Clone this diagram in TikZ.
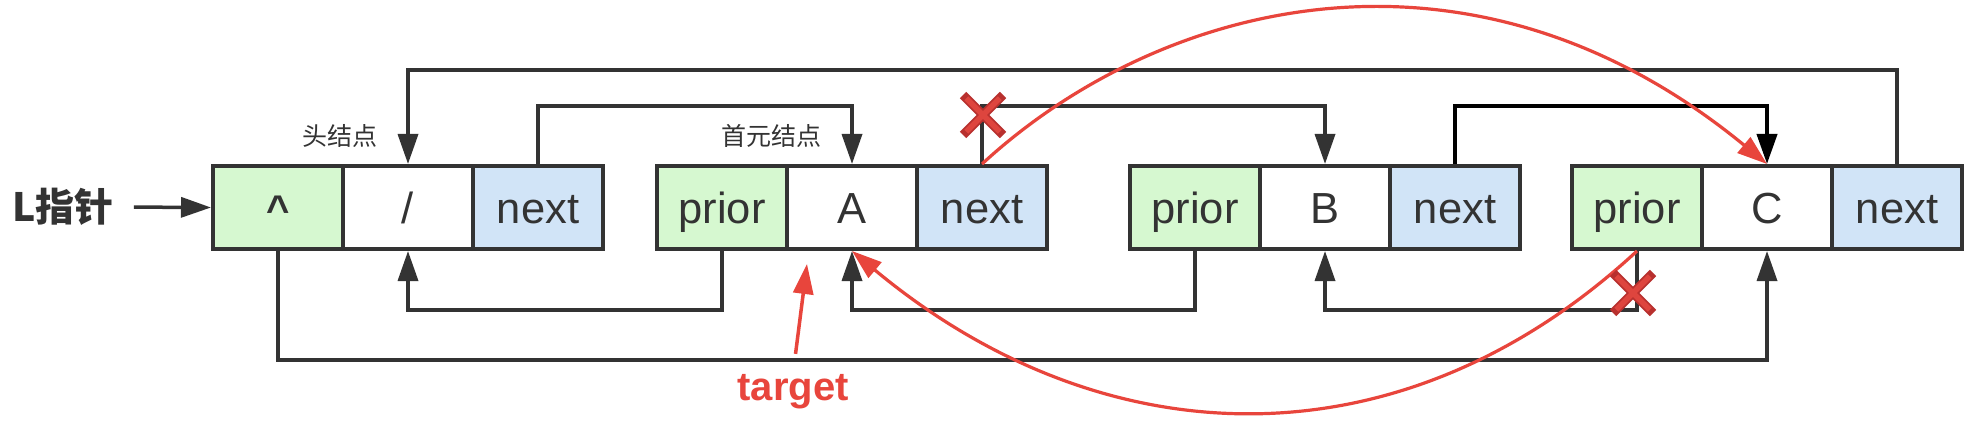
\documentclass[tikz,border=0pt]{standalone}
\usepackage{fontspec}
\setmainfont{Liberation Sans}
\newfontfamily\cjk{Noto Sans CJK SC}
\usetikzlibrary{arrows.meta,shapes.misc}
\definecolor{gfill}{HTML}{D6F8D0}
\definecolor{bfill}{HTML}{D1E4F7}
\definecolor{ink}{HTML}{333333}
\definecolor{redc}{HTML}{E8453C}
\definecolor{xdark}{HTML}{B8302E}
\definecolor{xred}{HTML}{DE453E}
\begin{document}
\begin{tikzpicture}[x=1pt,y=-1pt,
  cell/.style={draw=ink, line width=4pt, minimum width=130pt, minimum height=83pt,
    inner sep=0pt, text height=31pt, text depth=0pt,
    font=\fontsize{43.5}{50}\selectfont, text=ink},
  gcell/.style={cell, fill=gfill},
  wcell/.style={cell, fill=white},
  bcell/.style={cell, fill=bfill},
  link/.style={draw=ink, line width=3.5pt, -{Triangle[length=30pt,width=20pt]}},
  blink/.style={link, draw=black, line width=4pt},
  redarrow/.style={draw=redc, line width=3.2pt, -{Triangle[length=30pt,width=20pt]}},
  lbl/.style={font=\cjk\fontsize{25}{30}\selectfont, text=ink},
  xouter/.style={cross out, draw=xdark, line width=9pt, minimum size=31pt, inner sep=0pt},
  xinner/.style={cross out, draw=xred, line width=5.5pt, minimum size=28pt, inner sep=0pt}
]
\useasboundingbox[fill=white] (0,0) rectangle (1972,422);

% reference heights of the connector lanes
\coordinate (ytop) at (0,70);
\coordinate (ymid) at (0,106);
\coordinate (ylow) at (0,310);
\coordinate (ybot) at (0,360);

% head node
\node[gcell, font=\bfseries\fontsize{40}{50}\selectfont] (h1) at (278,207.5) {\textasciicircum};
\node[wcell] (h2) at (408,207.5) {/};
\node[bcell] (h3) at (538,207.5) {next};
% node A
\node[gcell] (a1) at (722,207.5) {prior};
\node[wcell] (a2) at (852,207.5) {A};
\node[bcell] (a3) at (982,207.5) {next};
% node B
\node[gcell] (b1) at (1195,207.5) {prior};
\node[wcell] (b2) at (1325,207.5) {B};
\node[bcell] (b3) at (1455,207.5) {next};
% node C
\node[gcell] (c1) at (1637,207.5) {prior};
\node[wcell] (c2) at (1767,207.5) {C};
\node[bcell] (c3) at (1897,207.5) {next};

% labels
\node[font=\cjk\bfseries\fontsize{39}{48}\selectfont, text=ink, inner sep=0pt] (Lp) at (63,207) {L指针};
\node[lbl] (lh) at (340,136) {头结点};
\node[lbl] (lf) at (771,136) {首元结点};
\node[font=\bfseries\fontsize{40}{48}\selectfont, text=redc, anchor=base, inner sep=0pt] (tg) at (793,400) {target};

% pointer L
\draw[link, shorten <=20pt] (Lp.east) -- (h1.west);

% next links (top)
\draw[link] (c3.north) -- (c3.north |- ytop) -| (h2.north);
\draw[link] (h3.north) -- (h3.north |- ymid) -| (a2.north);
\draw[link] (a3.north) -- (a3.north |- ymid) -| (b2.north);
\draw[blink] (b3.north) -- (b3.north |- ymid) -| (c2.north);

% prior links (bottom)
\draw[link] (a1.south) -- (a1.south |- ylow) -| (h2.south);
\draw[link] (b1.south) -- (b1.south |- ylow) -| (a2.south);
\draw[link] (c1.south) -- (c1.south |- ylow) -| (b2.south);
\draw[link] (h1.south) -- (h1.south |- ybot) -| (c2.south);

% red new links
\draw[redarrow] (a3.north) .. controls (1160,0) and (1470,-80) .. (c2.north);
\draw[redarrow] (c1.south) .. controls (1399,471) and (1102,459) .. (a2.south);
\coordinate (tgtip) at (807,264);
\draw[redarrow, line width=3.5pt, shorten <=20pt] (tg.north) -- (tgtip);

% cut marks
\node[xouter] (x1o) at (983,115) {};
\node[xinner] (x1i) at (983,115) {};
\node[xouter] (x2o) at (1633,293) {};
\node[xinner] (x2i) at (1633,293) {};
\end{tikzpicture}
\end{document}
